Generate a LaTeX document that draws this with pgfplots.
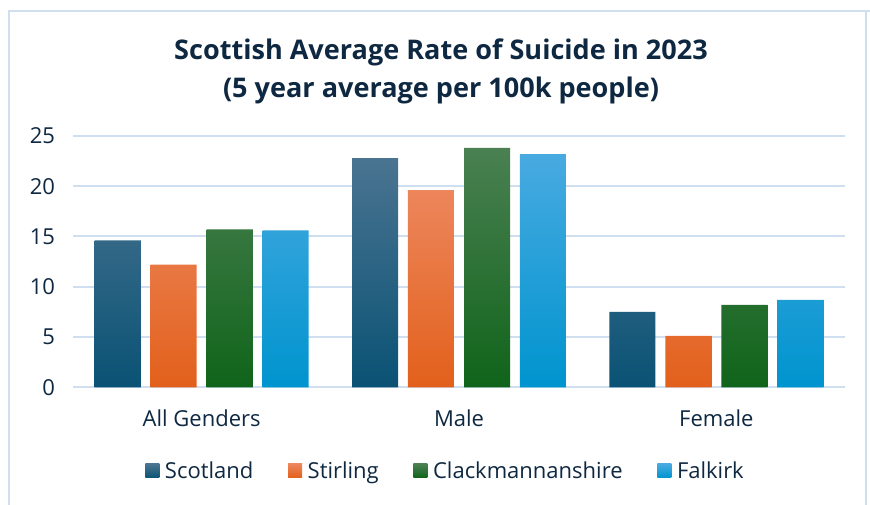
\documentclass[border=0pt]{standalone}
\usepackage{pgfplots}
\pgfplotsset{compat=1.18}
\usepackage{fontspec}
\setmainfont{Open Sans}
\definecolor{txt}{RGB}{14,40,65}
\definecolor{gridc}{RGB}{207,223,240}
\definecolor{sT}{RGB}{74,116,145}\definecolor{sM}{RGB}{21,96,130}\definecolor{sB}{RGB}{10,82,116}
\definecolor{tT}{RGB}{237,134,92}\definecolor{tM}{RGB}{242,113,44}\definecolor{tB}{RGB}{226,96,27}
\definecolor{cT}{RGB}{74,128,82}\definecolor{cM}{RGB}{22,110,34}\definecolor{cB}{RGB}{16,100,26}
\definecolor{fT}{RGB}{72,170,225}\definecolor{fM}{RGB}{6,160,220}\definecolor{fB}{RGB}{0,148,206}
\begin{document}
\begin{tikzpicture}
\begin{scope}[x=0.75pt,y=0.75pt]
\useasboundingbox (0,0) rectangle (870,505);
\draw[gridc,line width=1.5pt] (8.5,-10) -- (8.5,494) -- (880,494);
\draw[gridc,line width=1.5pt] (866,494) -- (866,-10);
\node[font=\fontsize{20.3}{24}\selectfont\bfseries,text=txt] at (441,453) {Scottish Average Rate of Suicide in 2023};
\node[font=\fontsize{20.3}{24}\selectfont\bfseries,text=txt] at (441,415) {(5 year average per 100k people)};
\end{scope}
\begin{axis}[
  at={(54.75pt,88.3pt)}, anchor=south west,
  scale only axis, width=579pt, height=188.5pt,
  xmin=-0.5, xmax=2.5, ymin=0, ymax=25,
  xtick={0,1,2}, xticklabels={All Genders,Male,Female},
  ytick={0,5,10,15,20,25},
  major tick length=0pt,
  axis line style={draw=none},
  ymajorgrids, major grid style={gridc,line width=1.5pt},
  /pgf/number format/assume math mode=true,
  tick label style={font=\fontsize{16.5}{20}\selectfont,text=txt},
  xticklabel style={yshift=-13pt},
  yticklabel style={xshift=-10pt},
  ybar, bar width=0.179,
  legend style={at={(0.483,-0.333)},anchor=center,draw=none,fill=none,
    legend columns=4,font=\fontsize{16.5}{20}\selectfont,text=txt,
    /tikz/every even column/.append style={column sep=24pt}},
  legend image code/.code={\path[#1] (0pt,-5.25pt) rectangle (10.5pt,5.25pt); \path (12.75pt,0pt);},
]
\addplot[draw=none,bar shift=-0.326,top color=sT,middle color=sM,bottom color=sB] coordinates {(0,14.6) (1,22.8) (2,7.5)};
\addplot[draw=none,bar shift=-0.109,top color=tT,middle color=tM,bottom color=tB] coordinates {(0,12.2) (1,19.6) (2,5.1)};
\addplot[draw=none,bar shift=0.109,top color=cT,middle color=cM,bottom color=cB] coordinates {(0,15.7) (1,23.8) (2,8.2)};
\addplot[draw=none,bar shift=0.326,top color=fT,middle color=fM,bottom color=fB] coordinates {(0,15.6) (1,23.2) (2,8.7)};
\legend{Scotland,Stirling,Clackmannanshire,Falkirk}
\end{axis}
\end{tikzpicture}
\end{document}
